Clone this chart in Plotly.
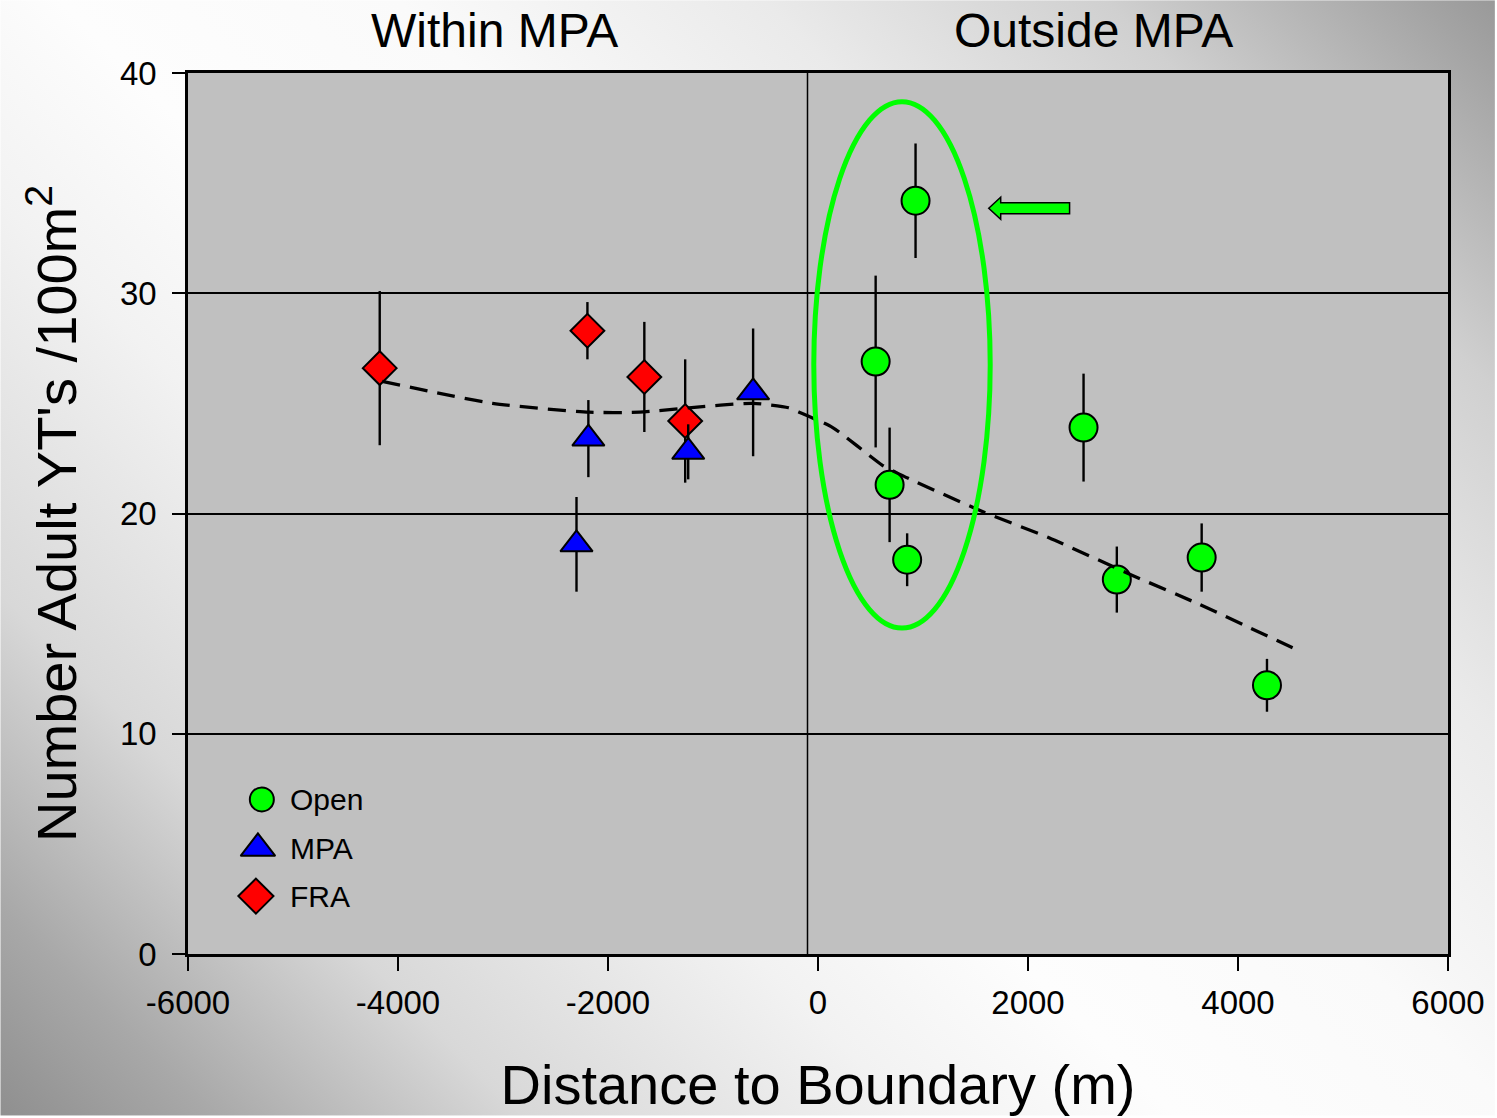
import base64
import plotly.graph_objects as go

# --- data ---
open_x = [549, 682, 849, 929, 2529, 2846, 3654, 4276]
open_y = [26.9, 21.3, 17.9, 34.2, 23.9, 17.0, 18.0, 12.2]
open_err = [3.9, 2.6, 1.2, 2.6, 2.45, 1.5, 1.55, 1.2]

mpa_x = [-2300, -2187, -1236, -618]
mpa_y = [18.6, 23.4, 22.8, 25.5]
mpa_err = [2.15, 1.75, 1.25, 2.9]

fra_x = [-4174, -2196, -1654, -1265]
fra_y = [26.6, 28.3, 26.2, 24.2]
fra_err = [3.5, 1.3, 2.5, 2.8]

trend_x = [-4150, -3100, -2180, -1700, -1230, -620, -280, -180, 140, 610, 770, 1560, 2200, 2990, 3620, 4520]
trend_y = [26.0, 25.0, 24.6, 24.6, 24.8, 25.0, 24.8, 24.6, 23.9, 22.2, 21.8, 20.1, 18.9, 17.2, 15.9, 13.9]

x_ticks = [-6000, -4000, -2000, 0, 2000, 4000, 6000]
x_tick_text = ["-6000", "-4000", "-2000", "0", "2000", "4000", "6000"]
y_ticks = [0, 10, 20, 30, 40]

legend_names = ["Open", "MPA", "FRA"]

FONT = "Arial, 'Liberation Sans', sans-serif"
W, H = 1497, 1118
ML, MR, MT, MB = 188, 47, 73, 162
PW, PH = W - ML - MR, H - MT - MB

# slide-like diagonal gradient background
svg = (
    f"<svg xmlns='http://www.w3.org/2000/svg' width='{W}' height='{H}' viewBox='0 0 {W} {H}'>"
    "<defs><linearGradient id='g' gradientUnits='userSpaceOnUse' "
    f"x1='0' y1='{H}' x2='{(W + H) / 2}' y2='{H - (W + H) / 2}'>"
    "<stop offset='0' stop-color='#8f8f8f'/>"
    "<stop offset='0.08' stop-color='#a8a8a8'/>"
    "<stop offset='0.2' stop-color='#d8d8d8'/>"
    "<stop offset='0.35' stop-color='#f2f2f2'/>"
    "<stop offset='0.45' stop-color='#fdfdfd'/>"
    "<stop offset='0.58' stop-color='#fafafa'/>"
    "<stop offset='0.72' stop-color='#eaeaea'/>"
    "<stop offset='0.85' stop-color='#d0d0d0'/>"
    "<stop offset='1' stop-color='#999999'/>"
    "</linearGradient></defs>"
    f"<rect width='{W}' height='{H}' fill='url(#g)'/></svg>"
)
bg_src = "data:image/svg+xml;base64," + base64.b64encode(svg.encode()).decode()

fig = go.Figure()

def err(vals):
    return dict(type="data", array=vals, visible=True, color="black", thickness=2.4, width=0)

fra_marker = dict(symbol="diamond", color="#ff0000", line=dict(color="black", width=2))
mpa_marker = dict(symbol="triangle-up", color="#0000ff", line=dict(color="black", width=2))
open_marker = dict(symbol="circle", color="#00ff00", line=dict(color="black", width=2))

fig.add_trace(go.Scatter(x=fra_x, y=fra_y, mode="markers", name="FRA", showlegend=False,
                         error_y=err(fra_err), marker=dict(size=26, **fra_marker)))
fig.add_trace(go.Scatter(x=mpa_x, y=mpa_y, mode="markers", name="MPA", showlegend=False,
                         error_y=err(mpa_err), marker=dict(size=28, **mpa_marker)))
fig.add_trace(go.Scatter(x=open_x, y=open_y, mode="markers", name="Open", showlegend=False,
                         error_y=err(open_err), marker=dict(size=28, **open_marker)))
# smoothed trend
fig.add_trace(go.Scatter(
    x=trend_x, y=trend_y, mode="lines", showlegend=False,
    line=dict(color="black", width=3.3, dash="18px,10px", shape="spline", smoothing=0.6),
))

# legend keys drawn on an overlay axis in plot-fraction units (bigger symbols than plotly's legend)
leg_sym_x = [0.0586, 0.0555, 0.0539]
leg_y = [0.1755, 0.12, 0.0657]
leg_markers = [dict(size=24, **open_marker), dict(size=30, **mpa_marker), dict(size=27, **fra_marker)]
for name, sx, sy, mk in zip(legend_names, leg_sym_x, leg_y, leg_markers):
    fig.add_trace(go.Scatter(x=[sx], y=[sy], mode="markers", marker=mk, showlegend=False,
                             xaxis="x2", yaxis="y2", hoverinfo="skip"))
    fig.add_annotation(text=name, xref="x2", yref="y2", x=0.0792, y=sy, xanchor="left", yanchor="middle",
                       showarrow=False, font=dict(size=30, color="black", family=FONT))

# plot area fill, boundary line, highlight ellipse and arrow
fig.add_shape(type="rect", xref="paper", yref="paper", x0=0, x1=1, y0=0, y1=1, layer="below",
              fillcolor="#c0c0c0", line=dict(width=0))
fig.add_shape(type="line", x0=-100, x1=-100, y0=0, y1=40, layer="below",
              line=dict(color="black", width=1.5))
fig.add_shape(type="circle", x0=-40, x1=1640, y0=14.8, y1=38.7,
              line=dict(color="#00ff00", width=5))
fig.add_shape(type="path",
              path="M 1626,33.86 L 1740,34.36 L 1740,34.11 L 2396,34.11 L 2396,33.61 "
                   "L 1740,33.61 L 1740,33.36 Z",
              fillcolor="#00ff00", line=dict(color="black", width=1.5))

fig.add_annotation(text="Within MPA", xref="paper", yref="paper", x=(495 - ML) / PW, y=(H - MB - 30) / PH,
                   xanchor="center", yanchor="middle", showarrow=False,
                   font=dict(size=48, color="black", family=FONT))
fig.add_annotation(text="Outside MPA", xref="paper", yref="paper", x=(1095 - ML) / PW, y=(H - MB - 30) / PH,
                   xanchor="center", yanchor="middle", showarrow=False,
                   font=dict(size=48, color="black", family=FONT))

fig.update_layout(
    width=W, height=H,
    margin=dict(l=ML, r=MR, t=MT, b=MB),
    paper_bgcolor="white", plot_bgcolor="#c0c0c0",
    font=dict(family=FONT, color="black"),
    images=[dict(source=bg_src, xref="paper", yref="paper", x=-ML / PW, y=1 + MT / PH,
                 sizex=W / PW, sizey=H / PH, sizing="stretch", layer="below")],
    showlegend=False,
    xaxis=dict(
        range=[-6000, 6000], tickvals=x_ticks, ticktext=x_tick_text, showgrid=False, zeroline=False,
        showline=True, linecolor="black", linewidth=2.5, mirror=True,
        ticks="outside", ticklen=14, tickwidth=2, tickcolor="black", ticklabelstandoff=4,
        tickfont=dict(size=33, color="black"),
        title=dict(text="Distance to Boundary (m)", font=dict(size=56, color="black"), standoff=45),
    ),
    yaxis=dict(
        range=[0, 40], tickvals=y_ticks, showgrid=True, gridcolor="black", gridwidth=2, zeroline=False,
        showline=True, linecolor="black", linewidth=2.5, mirror=True,
        ticks="outside", ticklen=13, tickwidth=2, tickcolor="black", ticklabelstandoff=9,
        tickfont=dict(size=33, color="black"),
        title=dict(text="Number Adult YT's /100m<sup>2</sup>", font=dict(size=56, color="black"), standoff=26),
    ),
    xaxis2=dict(overlaying="x", range=[0, 1], visible=False, fixedrange=True),
    yaxis2=dict(overlaying="y", range=[0, 1], visible=False, fixedrange=True),
)

fig.write_html("out.html", config={"displayModeBar": False},
               post_script="document.body.style.margin='0';")
